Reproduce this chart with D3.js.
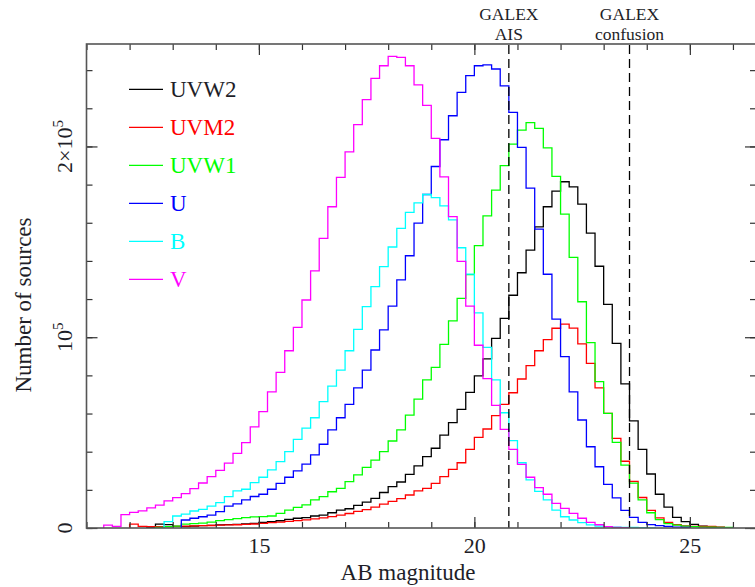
<!DOCTYPE html>
<html><head><meta charset="utf-8">
<script src="https://cdn.jsdelivr.net/npm/d3@7"></script>
<style>body{margin:0;background:#fff}svg{display:block}</style>
</head><body><svg id="chart" width="755" height="587"></svg>
<script>
// ---- data (counts in thousands of sources, 0.2 mag bins) ----
const binWidth = 0.2;
const seriesNames = ["UVW2", "UVM2", "UVW1", "U", "B", "V"];
const seriesColors = ["#000000", "#ff0000", "#00ff00", "#0000ff", "#00ffff", "#ff00ff"];
const seriesStart = [12.4, 12.0, 12.6, 13.2, 12.8, 11.4];
const uvw2 = [0.3, 2.0, 1.8, 0.8, 0.7, 1.0, 1.2, 1.4, 1.6, 1.8, 1.9, 2.1, 2.4, 3.0, 3.3, 3.8, 4.5, 5.1, 5.4, 6.3, 6.8, 8.0, 9.4, 10.1, 11.9, 13.6, 15.5, 18.6, 21.7, 24.1, 28.1, 32.6, 37.4, 41.8, 48.7, 55.2, 62.2, 71.1, 79.7, 88.6, 99.4, 109.9, 122.0, 133.8, 145.7, 157.8, 168.4, 176.6, 181.5, 178.8, 169.8, 154.6, 137.2, 117.2, 96.8, 75.5, 56.2, 41.2, 28.3, 17.7, 10.9, 5.6, 3.3, 1.9, 1.0, 0.7, 0.3];
const uvm2 = [2.0, 0.8, 0.7, 0.7, 0.7, 0.9, 1.0, 1.1, 1.2, 1.3, 1.5, 1.6, 1.7, 1.9, 2.1, 2.4, 2.8, 3.1, 3.5, 3.9, 4.3, 4.8, 5.3, 6.0, 6.8, 7.6, 8.7, 9.6, 10.9, 12.5, 14.0, 15.4, 17.3, 19.5, 20.8, 23.4, 26.9, 30.7, 34.2, 41.2, 47.5, 51.9, 58.9, 64.8, 70.9, 78.1, 85.1, 92.9, 98.7, 104.7, 106.9, 104.8, 96.5, 86.3, 73.5, 60.1, 47.0, 35.0, 24.4, 16.0, 9.2, 5.3, 3.0, 1.8, 1.1, 0.9, 0.8, 0.9, 0.5, 0.2];
const uvw1 = [0.3, 0.7, 1.0, 2.0, 2.3, 2.6, 3.1, 3.9, 4.4, 4.9, 5.4, 5.8, 6.0, 6.3, 7.7, 9.4, 10.8, 12.1, 14.7, 16.4, 19.0, 20.8, 24.3, 27.8, 31.8, 35.6, 40.0, 45.6, 51.4, 59.2, 67.6, 77.6, 84.2, 96.3, 108.6, 120.4, 132.8, 148.0, 163.6, 177.1, 190.0, 201.2, 208.6, 212.5, 209.5, 199.3, 184.3, 164.5, 141.9, 118.6, 97.2, 76.7, 60.1, 44.9, 33.0, 23.5, 14.7, 8.0, 4.4, 2.3, 1.5, 1.0, 0.7, 0.5, 0.4, 0.3, 0.3];
const uBand = [4.2, 5.1, 5.9, 6.8, 8.6, 11.5, 12.6, 14.7, 16.5, 17.7, 20.3, 23.4, 26.6, 29.9, 33.5, 38.3, 43.9, 51.4, 57.8, 64.8, 73.5, 82.8, 93.3, 103.8, 116.3, 130.1, 142.7, 159.8, 174.8, 189.5, 203.5, 216.1, 228.3, 237.1, 242.3, 242.8, 240.6, 231.8, 217.9, 199.5, 178.2, 156.7, 133.0, 109.5, 89.8, 71.4, 56.6, 42.6, 32.1, 22.9, 15.8, 9.2, 5.6, 3.0, 1.8, 1.2, 0.8, 0.5, 0.3];
const bBand = [3.3, 6.3, 7.3, 8.9, 9.8, 11.5, 13.3, 16.4, 19.5, 20.3, 23.8, 26.6, 30.5, 34.8, 40.0, 46.5, 52.3, 57.8, 66.2, 74.4, 82.8, 92.9, 104.1, 116.0, 126.5, 137.0, 147.3, 157.1, 165.4, 170.4, 174.8, 173.2, 168.9, 161.5, 146.9, 133.1, 112.8, 94.7, 77.6, 60.4, 45.8, 34.2, 25.2, 19.2, 14.7, 9.4, 5.9, 4.2, 2.8, 1.6, 1.0, 0.7, 0.5, 0.3, 0.3, 0.2, 0.1];
const vBand = [1.5, 0.8, 7.0, 8.2, 9.0, 10.5, 12.0, 14.2, 15.9, 18.0, 20.6, 23.6, 26.9, 30.2, 34.0, 39.1, 44.8, 53.0, 61.0, 71.4, 81.6, 92.9, 105.2, 119.5, 134.8, 151.8, 168.4, 183.8, 197.2, 211.4, 224.5, 235.7, 242.3, 247.2, 246.7, 242.3, 232.3, 221.5, 204.2, 184.1, 163.2, 139.8, 116.3, 95.8, 78.3, 64.3, 51.7, 41.2, 33.4, 26.6, 21.2, 17.7, 12.9, 10.3, 7.7, 5.1, 3.0, 1.7, 0.7, 0.3, 0.2];
const seriesValues = [uvw2, uvm2, uvw1, uBand, bBand, vBand];

const xMajorTicks = [15, 20, 25];
const xMinorTicks = d3.range(11, 27, 1);
const yMajorTicks = [0, 100, 200];
const yMinorTicks = d3.range(0, 260, 20);
const galexLimits = [20.8, 23.6];
const galexLabels = [["GALEX", "AIS"], ["GALEX", "confusion"]];

// ---- layout ----
const svg = d3.select("#chart");
const L = 86.5, R = 756, T = 44, B = 528;
const x = d3.scaleLinear().domain([11, 26.535]).range([L, R]);
const y = d3.scaleLinear().domain([0, 253.7]).range([B, T]);
const serif = "'Liberation Serif', 'Times New Roman', serif";
const textColor = "#1e1e28";

svg.append("defs").append("clipPath").attr("id", "clip")
  .append("rect").attr("x", L).attr("y", T).attr("width", R - L).attr("height", B - T);

// histograms
const line = d3.line().x(d => x(d[0])).y(d => y(d[1]));
const plot = svg.append("g").attr("clip-path", "url(#clip)");
seriesValues.forEach((vals, k) => {
  const s = seriesStart[k];
  const pts = [[s, 0]];
  vals.forEach((v, i) => {
    const a = s + i * binWidth, b = s + (i + 1) * binWidth;
    pts.push([a, v], [b, v]);
  });
  pts.push([s + vals.length * binWidth, 0]);
  plot.append("path").attr("d", line(pts))
    .attr("fill", "none").attr("stroke", seriesColors[k])
    .attr("stroke-width", 1.3).attr("stroke-linejoin", "miter");
});

// GALEX dashed limits
galexLimits.forEach((m, i) => {
  svg.append("line").attr("x1", x(m)).attr("x2", x(m)).attr("y1", T + 1).attr("y2", B)
    .attr("stroke", "#000").attr("stroke-width", 1.3).attr("stroke-dasharray", "9,5");
  const t = svg.append("text").attr("text-anchor", "middle")
    .attr("font-family", serif).attr("font-size", 17.5).attr("fill", textColor);
  t.append("tspan").attr("x", x(m)).attr("y", 20).text(galexLabels[i][0]);
  t.append("tspan").attr("x", x(m)).attr("y", 40).text(galexLabels[i][1]);
});

// axes (ticks inward on all four sides)
function styleAxis(g) {
  g.select(".domain").remove();
  g.selectAll(".tick line").attr("stroke", "#333").attr("stroke-width", 1.2);
}
svg.append("g").attr("transform", `translate(0,${B})`)
  .call(d3.axisBottom(x).tickValues(xMinorTicks).tickSize(-6).tickFormat("")).call(styleAxis);
svg.append("g").attr("transform", `translate(0,${B})`)
  .call(d3.axisBottom(x).tickValues(xMajorTicks).tickSize(-11).tickPadding(9).tickFormat(d3.format("d")))
  .call(styleAxis)
  .call(g => g.selectAll("text").attr("font-family", serif).attr("font-size", 22).attr("fill", textColor));
svg.append("g").attr("transform", `translate(0,${T})`)
  .call(d3.axisTop(x).tickValues(xMinorTicks).tickSize(-6).tickFormat("")).call(styleAxis);
svg.append("g").attr("transform", `translate(0,${T})`)
  .call(d3.axisTop(x).tickValues(xMajorTicks).tickSize(-11).tickFormat("")).call(styleAxis);
svg.append("g").attr("transform", `translate(${L},0)`)
  .call(d3.axisLeft(y).tickValues(yMinorTicks).tickSize(-6).tickFormat("")).call(styleAxis);
svg.append("g").attr("transform", `translate(${L},0)`)
  .call(d3.axisLeft(y).tickValues(yMajorTicks).tickSize(-11).tickFormat("")).call(styleAxis);
svg.append("g").attr("transform", `translate(${R},0)`)
  .call(d3.axisRight(y).tickValues(yMinorTicks).tickSize(-6).tickFormat("")).call(styleAxis);
svg.append("g").attr("transform", `translate(${R},0)`)
  .call(d3.axisRight(y).tickValues(yMajorTicks).tickSize(-11).tickFormat("")).call(styleAxis);

// y tick labels (rotated)
const yLab = [["0", null], ["10", "5"], ["2×10", "5"]];
yMajorTicks.forEach((v, i) => {
  const t = svg.append("text")
    .attr("transform", `translate(72,${y(v)}) rotate(-90)`)
    .attr("text-anchor", "middle").attr("font-family", serif)
    .attr("font-size", 22).attr("fill", textColor);
  t.append("tspan").text(yLab[i][0]);
  if (yLab[i][1]) t.append("tspan").attr("font-size", 15).attr("dy", -9).text(yLab[i][1]);
});

// frame
svg.append("rect").attr("x", L).attr("y", T).attr("width", R - L).attr("height", B - T)
  .attr("fill", "none").attr("stroke", "#555").attr("stroke-width", 1.6);

// axis titles
svg.append("text").attr("x", 408).attr("y", 580).attr("text-anchor", "middle")
  .attr("font-family", serif).attr("font-size", 23).attr("fill", textColor).text("AB magnitude");
svg.append("text").attr("transform", "translate(31,305) rotate(-90)").attr("text-anchor", "middle")
  .attr("font-family", serif).attr("font-size", 23).attr("fill", textColor).text("Number of sources");

// legend
seriesNames.forEach((name, i) => {
  const yy = 89.3 + i * 38;
  svg.append("line").attr("x1", 129).attr("x2", 163).attr("y1", yy).attr("y2", yy)
    .attr("stroke", seriesColors[i]).attr("stroke-width", 1.3);
  svg.append("text").attr("x", 170).attr("y", yy + 8).attr("font-family", serif)
    .attr("font-size", 23).attr("fill", i === 0 ? textColor : seriesColors[i]).text(name);
});
</script></body></html>
